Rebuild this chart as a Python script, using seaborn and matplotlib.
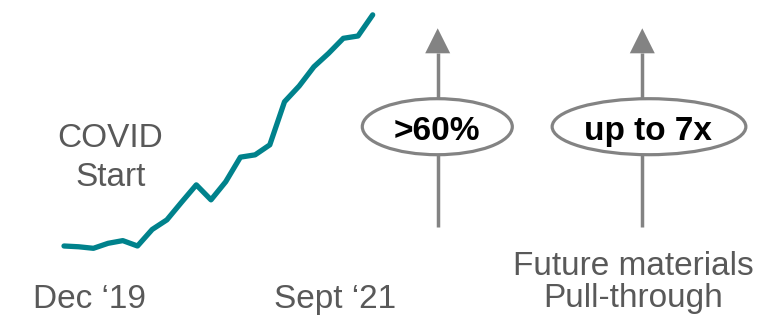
import matplotlib
matplotlib.use("Agg")
import matplotlib.pyplot as plt
from matplotlib.patches import Ellipse, Polygon
import seaborn as sns
import pandas as pd

# ---- data ----
months = list(range(22))  # Dec '19 .. Sept '21, monthly
index_values = [100.0, 99.8, 99.4, 100.7, 101.4, 100.0, 104.3, 106.8, 111.4, 115.9,
                112.0, 116.7, 123.1, 123.7, 126.3, 137.5, 141.6, 146.6, 150.1, 154.0,
                154.6, 160.1]
start_label = "Dec \u201819"
end_label = "Sept \u201821"
event_label = ["COVID", "Start"]
growth_labels = [">60%", "up to 7x"]
future_label = ["Future materials", "Pull-through"]

df = pd.DataFrame({"month": months, "value": index_values})

sns.set_style("white")
plt.rcParams["font.family"] = ["Liberation Sans", "DejaVu Sans"]

W, H = 784, 320
fig = plt.figure(figsize=(W / 100, H / 100), dpi=100)

# overlay axes in pixel coordinates for annotations
ov = fig.add_axes([0, 0, 1, 1])
ov.set_xlim(0, W)
ov.set_ylim(H, 0)
ov.axis("off")

# line axes
ax = fig.add_axes([64 / W, (H - 260) / H, (372.7 - 64) / W, 250 / H])
sns.lineplot(data=df, x="month", y="value", ax=ax, color="#00828C",
             linewidth=3.8, solid_capstyle="round", solid_joinstyle="round",
             clip_on=False)
ax.set_xlim(0, 21)
ax.set_ylim(96.36, 161.36)
ax.axis("off")
ax.patch.set_alpha(0)

grey_txt = "#595959"
fs = 24
ov.text(110, 146.7, event_label[0], ha="center", va="baseline", fontsize=fs, color=grey_txt)
ov.text(111, 185.7, event_label[1], ha="center", va="baseline", fontsize=fs, color=grey_txt)
ov.text(90, 308.3, start_label, ha="center", va="baseline", fontsize=fs, color=grey_txt)
ov.text(335.5, 308.3, end_label, ha="center", va="baseline", fontsize=fs, color=grey_txt)
ov.text(633, 275, future_label[0], ha="center", va="baseline", fontsize=fs, color=grey_txt)
ov.text(633, 306.7, future_label[1], ha="center", va="baseline", fontsize=fs, color=grey_txt)

arrow_col = "#838383"
for ax_x, ecx, ew, lab in [(437.7, 437.3, 153, growth_labels[0]),
                           (642.3, 649, 196.7, growth_labels[1])]:
    ov.add_patch(Polygon([[ax_x, 28.3], [ax_x - 12.5, 53.3], [ax_x + 12.5, 53.3]],
                         closed=True, facecolor=arrow_col, edgecolor="none"))
    ov.plot([ax_x, ax_x], [53, 98], color=arrow_col, lw=2.5, solid_capstyle="butt")
    ov.plot([ax_x, ax_x], [155, 226.7], color=arrow_col, lw=2.5, solid_capstyle="butt")
    ov.add_patch(Ellipse((ecx, 126.7), ew - 3, 56, facecolor="white",
                         edgecolor=arrow_col, lw=2.3))
    ov.text(ecx - 0.5, 140, lab, ha="center", va="baseline", fontsize=fs,
            fontweight="bold", color="black")

fig.savefig("out.png", dpi=100, facecolor="white")
